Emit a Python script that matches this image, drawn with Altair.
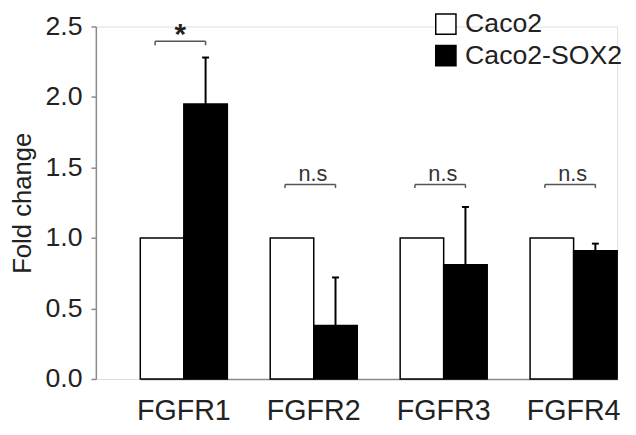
import altair as alt
import pandas as pd

genes = ["FGFR1", "FGFR2", "FGFR3", "FGFR4"]
groups = ["Caco2", "Caco2-SOX2"]
caco2 = [1.0, 1.0, 1.0, 1.0]
sox2 = [1.95, 0.38, 0.81, 0.91]
sox2_err = [0.33, 0.34, 0.41, 0.05]
sig_labels = ["*", "n.s", "n.s", "n.s"]
bracket_level = [2.395, 1.38, 1.38, 1.38]
bracket_foot = [2.367, 1.355, 1.355, 1.355]

FONT = "Liberation Sans"
TXT = "#222222"
AX = "#8a8a8a"

rows = []
for g, a, b in zip(genes, caco2, sox2):
    rows.append({"gene": g, "group": groups[0], "value": a})
    rows.append({"gene": g, "group": groups[1], "value": b})
df_bars = pd.DataFrame(rows)

df_err = pd.DataFrame({
    "gene": genes,
    "value": sox2,
    "top": [v + e for v, e in zip(sox2, sox2_err)],
})

df_sig = pd.DataFrame({
    "gene": genes,
    "label": sig_labels,
    "level": bracket_level,
    "foot": bracket_foot,
})

xscale = alt.Scale(domain=genes, range=[45, 528], paddingInner=0.33, paddingOuter=0)
yscale = alt.Scale(domain=[0, 2.5], nice=False, zero=True)

xaxis = alt.Axis(
    title=None, ticks=False, labelAngle=0, labelFont=FONT, labelFontSize=29,
    labelColor=TXT, labelPadding=18, domainColor=AX, domainWidth=1.5,
)
yaxis = alt.Axis(
    title="Fold change", values=[0, 0.5, 1.0, 1.5, 2.0, 2.5], format=".1f",
    labelFont=FONT, labelFontSize=27, labelColor=TXT, labelPadding=9,
    tickSize=5, tickColor=AX, tickWidth=1.5, domainColor=AX, domainWidth=1.5,
    grid=False, titleFont=FONT, titleFontSize=26, titleFontWeight="normal",
    titleColor=TXT, titlePadding=10,
)

bars = alt.Chart(df_bars).mark_bar(stroke="black", strokeWidth=1.5).encode(
    x=alt.X("gene:N", sort=genes, scale=xscale, axis=xaxis),
    xOffset=alt.XOffset("group:N", sort=groups,
                        scale=alt.Scale(domain=groups, paddingInner=0, paddingOuter=0)),
    y=alt.Y("value:Q", scale=yscale, axis=yaxis),
    fill=alt.Fill("group:N", scale=alt.Scale(domain=groups, range=["white", "black"]),
                  legend=alt.Legend(
                      title=None, orient="none", legendX=341, legendY=-16,
                      symbolType="square", symbolSize=420, symbolStrokeColor="black",
                      symbolStrokeWidth=1.5, labelFont=FONT, labelFontSize=27,
                      labelColor=TXT, labelOffset=6, rowPadding=4, labelLimit=300)),
)

err_line = alt.Chart(df_err).mark_rule(color="black", strokeWidth=2).encode(
    x=alt.X("gene:N", sort=genes, scale=xscale, bandPosition=0.75),
    y=alt.Y("value:Q", scale=yscale),
    y2="top:Q",
)
err_cap = alt.Chart(df_err).mark_rule(color="black", strokeWidth=2).encode(
    x=alt.X("gene:N", sort=genes, scale=xscale, bandPosition=0.71),
    x2=alt.X2("gene:N", bandPosition=0.79),
    y=alt.Y("top:Q", scale=yscale),
)

br_h = alt.Chart(df_sig).mark_rule(color="#555555", strokeWidth=1.5).encode(
    x=alt.X("gene:N", sort=genes, scale=xscale, bandPosition=0.17),
    x2=alt.X2("gene:N", bandPosition=0.75),
    y=alt.Y("level:Q", scale=yscale),
)
br_l = alt.Chart(df_sig).mark_rule(color="#555555", strokeWidth=1.5).encode(
    x=alt.X("gene:N", sort=genes, scale=xscale, bandPosition=0.17),
    y=alt.Y("level:Q", scale=yscale),
    y2="foot:Q",
)
br_r = alt.Chart(df_sig).mark_rule(color="#555555", strokeWidth=1.5).encode(
    x=alt.X("gene:N", sort=genes, scale=xscale, bandPosition=0.75),
    y=alt.Y("level:Q", scale=yscale),
    y2="foot:Q",
)
star = alt.Chart(df_sig[df_sig.label == "*"]).mark_text(
    font=FONT, fontSize=30, fontWeight="bold", color=TXT, baseline="alphabetic", dy=3
).encode(
    x=alt.X("gene:N", sort=genes, scale=xscale, bandPosition=0.46),
    y=alt.Y("level:Q", scale=yscale),
    text="label:N",
)
ns = alt.Chart(df_sig[df_sig.label != "*"]).mark_text(
    font=FONT, fontSize=22, color="#333333", baseline="alphabetic", dy=-3
).encode(
    x=alt.X("gene:N", sort=genes, scale=xscale, bandPosition=0.49),
    y=alt.Y("level:Q", scale=yscale),
    text="label:N",
)

chart = alt.layer(bars, err_line, err_cap, br_h, br_l, br_r, star, ns).properties(
    width=528, height=357,
    autosize=alt.AutoSizeParams(type="none"),
    padding={"left": 89, "top": 16, "right": 11, "bottom": 54},
).configure_view(stroke=None).configure(background="white")

chart.save("out.html", embed_options={"renderer": "svg", "actions": False})
